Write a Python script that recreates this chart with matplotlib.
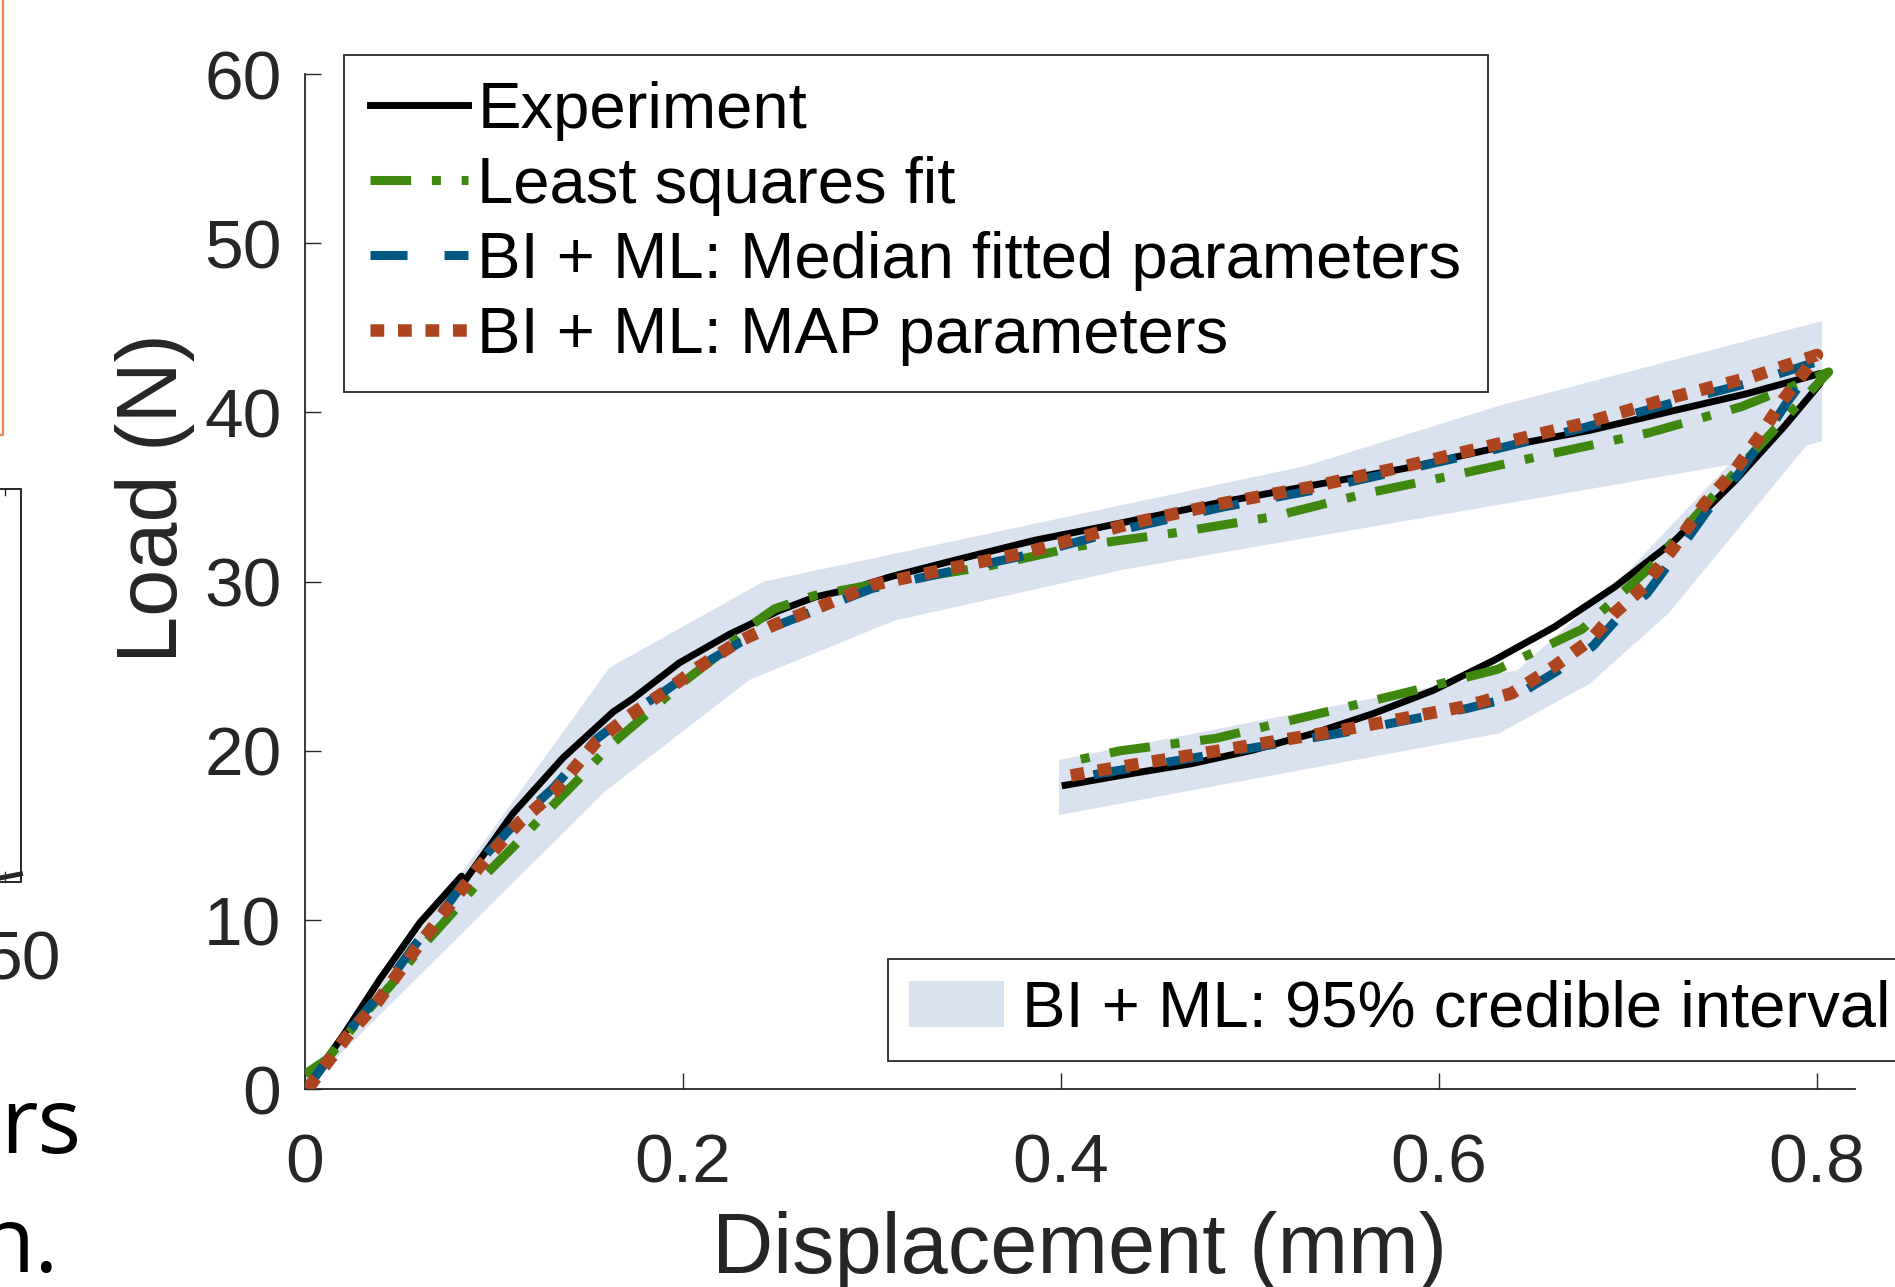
import numpy as np
import matplotlib
matplotlib.use("Agg")
import matplotlib.pyplot as plt
from matplotlib.lines import Line2D

# %%
# Data
# -----------------------------------

# experiment: loading branch then unloading branch
exp_x = [0.0, 0.0203, 0.0396, 0.0608, 0.0828, 0.0845, 0.087, 0.110, 0.1366, 0.163,
         0.1736, 0.198, 0.2247, 0.251, 0.27, 0.29, 0.31, 0.3413, 0.3862, 0.4214,
         0.4852, 0.5332, 0.5811, 0.629, 0.680, 0.7249, 0.7632, 0.8016,
         0.8016, 0.7824, 0.7568, 0.7249, 0.693, 0.661, 0.629, 0.597, 0.5651,
         0.5332, 0.5013, 0.4693, 0.4373, 0.4022]
exp_y = [0.0, 3.2, 6.5, 9.85, 12.6, 12.3, 12.7, 16.3, 19.6, 22.3,
         23.1, 25.2, 26.9, 28.3, 29.1, 29.6, 30.3, 31.2, 32.45, 33.23,
         34.71, 35.7, 36.68, 37.87, 38.95, 40.13, 41.12, 42.3,
         41.7, 39.14, 35.99, 32.45, 29.69, 27.32, 25.35, 23.58, 22.2,
         21.02, 20.04, 19.25, 18.66, 17.97]

# least squares fit
lsq_x = [0.0, 0.0115, 0.029, 0.045, 0.0608, 0.077, 0.0934, 0.110, 0.1278, 0.1445,
         0.1612, 0.1801, 0.1991, 0.218, 0.237, 0.2485, 0.27, 0.299, 0.3604, 0.410,
         0.461, 0.5121, 0.5615, 0.611, 0.6604, 0.7114, 0.7599, 0.8062,
         0.7773, 0.7449, 0.7121, 0.6757, 0.631, 0.5807, 0.5312, 0.4818, 0.4314,
         0.4085, 0.4063]
lsq_y = [0.9, 1.76, 4.15, 6.1, 8.3, 10.3, 12.45, 14.3, 16.4, 18.3,
         20.3, 22.1, 23.98, 25.6, 27.5, 28.4, 29.2, 29.8, 30.89, 32.11,
         32.9, 33.84, 35.22, 36.37, 37.59, 38.81, 40.34, 42.4,
         38.97, 35.03, 30.89, 27.19, 24.82, 23.4, 22.06, 20.74, 20.01,
         19.46, 19.17]

# BI + ML, median fitted parameters
med_x = [0.002, 0.0026, 0.022, 0.0379, 0.0573, 0.0767, 0.0925, 0.1137, 0.1313, 0.1542,
         0.1718, 0.1912, 0.2088, 0.23, 0.2493, 0.27, 0.30, 0.3413, 0.383, 0.437,
         0.4852, 0.5332, 0.581, 0.6286, 0.6766, 0.7245, 0.7659, 0.80,
         0.7835, 0.7708, 0.758, 0.742, 0.726, 0.71, 0.6942, 0.6815, 0.6623, 0.64,
         0.6145, 0.5825, 0.5505, 0.5184, 0.4867, 0.4547, 0.4228, 0.4022]
med_y = [0.0, 0.3, 3.3, 5.4, 8.4, 11.1, 13.5, 16.0, 17.8, 20.7,
         22.2, 23.6, 25.0, 26.4, 27.4, 28.3, 29.6, 30.6, 31.6, 33.2,
         34.4, 35.4, 36.6, 37.8, 39.1, 40.6, 41.8, 43.0,
         40.5, 38.3, 36.3, 34.2, 31.7, 29.3, 27.8, 26.2, 24.7, 23.2,
         22.5, 21.8, 21.1, 20.5, 19.9, 19.3, 18.7, 18.3]

# BI + ML, MAP parameters
map_x = [0.002, 0.0026, 0.022, 0.0379, 0.0573, 0.0767, 0.0925, 0.1137, 0.1313, 0.1542,
         0.1718, 0.1912, 0.2088, 0.23, 0.2493, 0.27, 0.30, 0.3413, 0.383, 0.437,
         0.4852, 0.5332, 0.581, 0.6286, 0.6766, 0.7245, 0.7659, 0.80,
         0.7821, 0.7694, 0.7566, 0.7406, 0.7245, 0.7085, 0.6927, 0.68, 0.6608, 0.6384,
         0.6129, 0.581, 0.549, 0.5169, 0.4852, 0.4532, 0.4213, 0.4022]
map_y = [0.0, 0.2, 3.1, 5.1, 8.1, 10.9, 13.2, 15.8, 17.5, 20.55,
         22.1, 23.56, 25.0, 26.5, 27.5, 28.4, 29.8, 30.79, 31.77, 33.45,
         34.63, 35.62, 36.8, 38.08, 39.36, 40.93, 42.12, 43.4,
         40.74, 38.57, 36.6, 34.63, 32.07, 29.7, 28.13, 26.55, 24.98, 23.4,
         22.61, 21.92, 21.24, 20.64, 20.05, 19.46, 18.87, 18.48]

# 95% credible interval, loading branch (upper and lower edge)
load_up_x = [0.0, 0.1612, 0.2425, 0.5297, 0.6318, 0.8025]
load_up_y = [0.0, 24.93, 30.0, 36.85, 40.4, 45.4]
load_lo_x = [0.0, 0.1587, 0.2352, 0.312, 0.4339, 0.6894, 0.7532, 0.7947, 0.8025]
load_lo_y = [0.0, 17.6, 24.2, 27.7, 30.73, 35.66, 36.9, 38.08, 38.3]

# 95% credible interval, unloading branch (outer and inner edge)
unload_out_x = [0.8025, 0.8025, 0.7947, 0.7215, 0.68, 0.632, 0.3989]
unload_out_y = [45.4, 38.3, 38.08, 28.13, 23.99, 21.04, 16.21]
unload_in_x = [0.80, 0.7532, 0.699, 0.6416, 0.3989]
unload_in_y = [42.0, 36.9, 30.5, 24.78, 19.46]

xticks = [0.0, 0.2, 0.4, 0.6, 0.8]
xtick_labels = ["0", "0.2", "0.4", "0.6", "0.8"]
yticks = [0, 10, 20, 30, 40, 50, 60]

labels = [
    "Experiment",
    "Least squares fit",
    "BI + ML: Median fitted parameters",
    "BI + ML: MAP parameters",
]
band_label = "BI + ML: 95% credible interval"

# %%
# Styles
# ------

W, H = 1895, 1287
GREEN = "#3f8810"
BLUE = "#005883"
RED = "#ad451f"
BAND = "#dbe2ef"
DARK = "#262626"

plt.rcParams["font.family"] = ["Liberation Sans", "DejaVu Sans"]


def fx(px):
    return px / W


def fy(py):
    return 1.0 - py / H


fig = plt.figure(figsize=(W / 100, H / 100), dpi=100)
ax = fig.add_axes([fx(305), fy(1089.3), 1549.8 / W, 1015.2 / H])

band, = ax.fill(np.r_[load_up_x, load_lo_x[::-1]], np.r_[load_up_y, load_lo_y[::-1]],
                color=BAND, lw=0, zorder=1)
ax.fill(np.r_[unload_out_x, unload_in_x[::-1]], np.r_[unload_out_y, unload_in_y[::-1]],
        color=BAND, lw=0, zorder=1)

h_exp, = ax.plot(exp_x, exp_y, color="k", lw=5, solid_joinstyle="round", zorder=3)
h_lsq, = ax.plot(lsq_x, lsq_y, color=GREEN, lw=6.5, dashes=(4.5, 2.3, 1, 2.3), zorder=4)
h_med, = ax.plot(med_x, med_y, color=BLUE, lw=6.5, dashes=(4.1, 4.1), zorder=5)
h_map, = ax.plot(map_x, map_y, color=RED, lw=9, dashes=(1.1, 1.1), zorder=6)

ax.set_xlim(0, 0.82)
ax.set_ylim(0, 60)
ax.set_xticks(xticks)
ax.set_xticklabels(xtick_labels)
ax.set_yticks(yticks)
ax.tick_params(direction="in", length=11.5, width=1.0, color=DARK,
               labelsize=50, labelcolor=DARK)
ax.tick_params(axis="x", pad=31)
ax.tick_params(axis="y", pad=17)
for side in ("top", "right"):
    ax.spines[side].set_visible(False)
for side in ("left", "bottom"):
    ax.spines[side].set_linewidth(1.3)
    ax.spines[side].set_color(DARK)

ax.set_xlabel("Displacement (mm)", fontsize=61, color=DARK)
ax.xaxis.set_label_coords(0.5, -0.12)
ax.set_ylabel("Load (N)", fontsize=61, color=DARK)
ax.yaxis.set_label_coords(-0.071, 0.582)

leg1 = fig.legend([h_exp, h_lsq, h_med, h_map], labels, loc="upper left",
                  bbox_to_anchor=(fx(343.5), fy(55)), fontsize=47,
                  handlelength=1.5, handletextpad=0.15, borderpad=0.4,
                  labelspacing=0.23, borderaxespad=0, fancybox=False,
                  framealpha=1, edgecolor=DARK)
leg1.get_frame().set_linewidth(1.3)

leg2 = fig.legend([band], [band_label], loc="upper left",
                  bbox_to_anchor=(fx(888), fy(959)), fontsize=47,
                  handlelength=1.45, handleheight=0.72, handletextpad=0.28,
                  borderpad=0.32, borderaxespad=0, fancybox=False,
                  framealpha=1, edgecolor=DARK)
leg2.get_frame().set_linewidth(1.3)

# %%
# Fragments of the neighbouring panel at the left edge
# ----------------------------------------------------

fig.add_artist(Line2D([fx(2.5), fx(2.5), fx(0)], [fy(0), fy(435), fy(435)],
                      transform=fig.transFigure, color="#ec8a4a", lw=1.6))
fig.add_artist(Line2D([fx(0), fx(20.5), fx(20.5), fx(0)],
                      [fy(489), fy(489), fy(882), fy(882)],
                      transform=fig.transFigure, color=DARK, lw=1.4))
fig.add_artist(Line2D([fx(5), fx(5)], [fy(489), fy(495)],
                      transform=fig.transFigure, color=DARK, lw=1.0))
fig.add_artist(Line2D([fx(5), fx(5)], [fy(882), fy(872)],
                      transform=fig.transFigure, color=DARK, lw=1.0))
fig.add_artist(Line2D([fx(0), fx(20.5)], [fy(878), fy(874)],
                      transform=fig.transFigure, color=DARK, lw=3.5))
fig.text(fx(61), fy(961), "50", fontsize=50, color=DARK, ha="right", va="center")
fig.text(fx(0), fy(1153), "rs", fontsize=66, color="k", ha="left",
         va="baseline", family=["Open Sans", "DejaVu Sans"])
fig.text(fx(-22), fy(1272), "n.", fontsize=66, color="k", ha="left",
         va="baseline", family=["Open Sans", "DejaVu Sans"])

fig.savefig("out.png", dpi=100)
